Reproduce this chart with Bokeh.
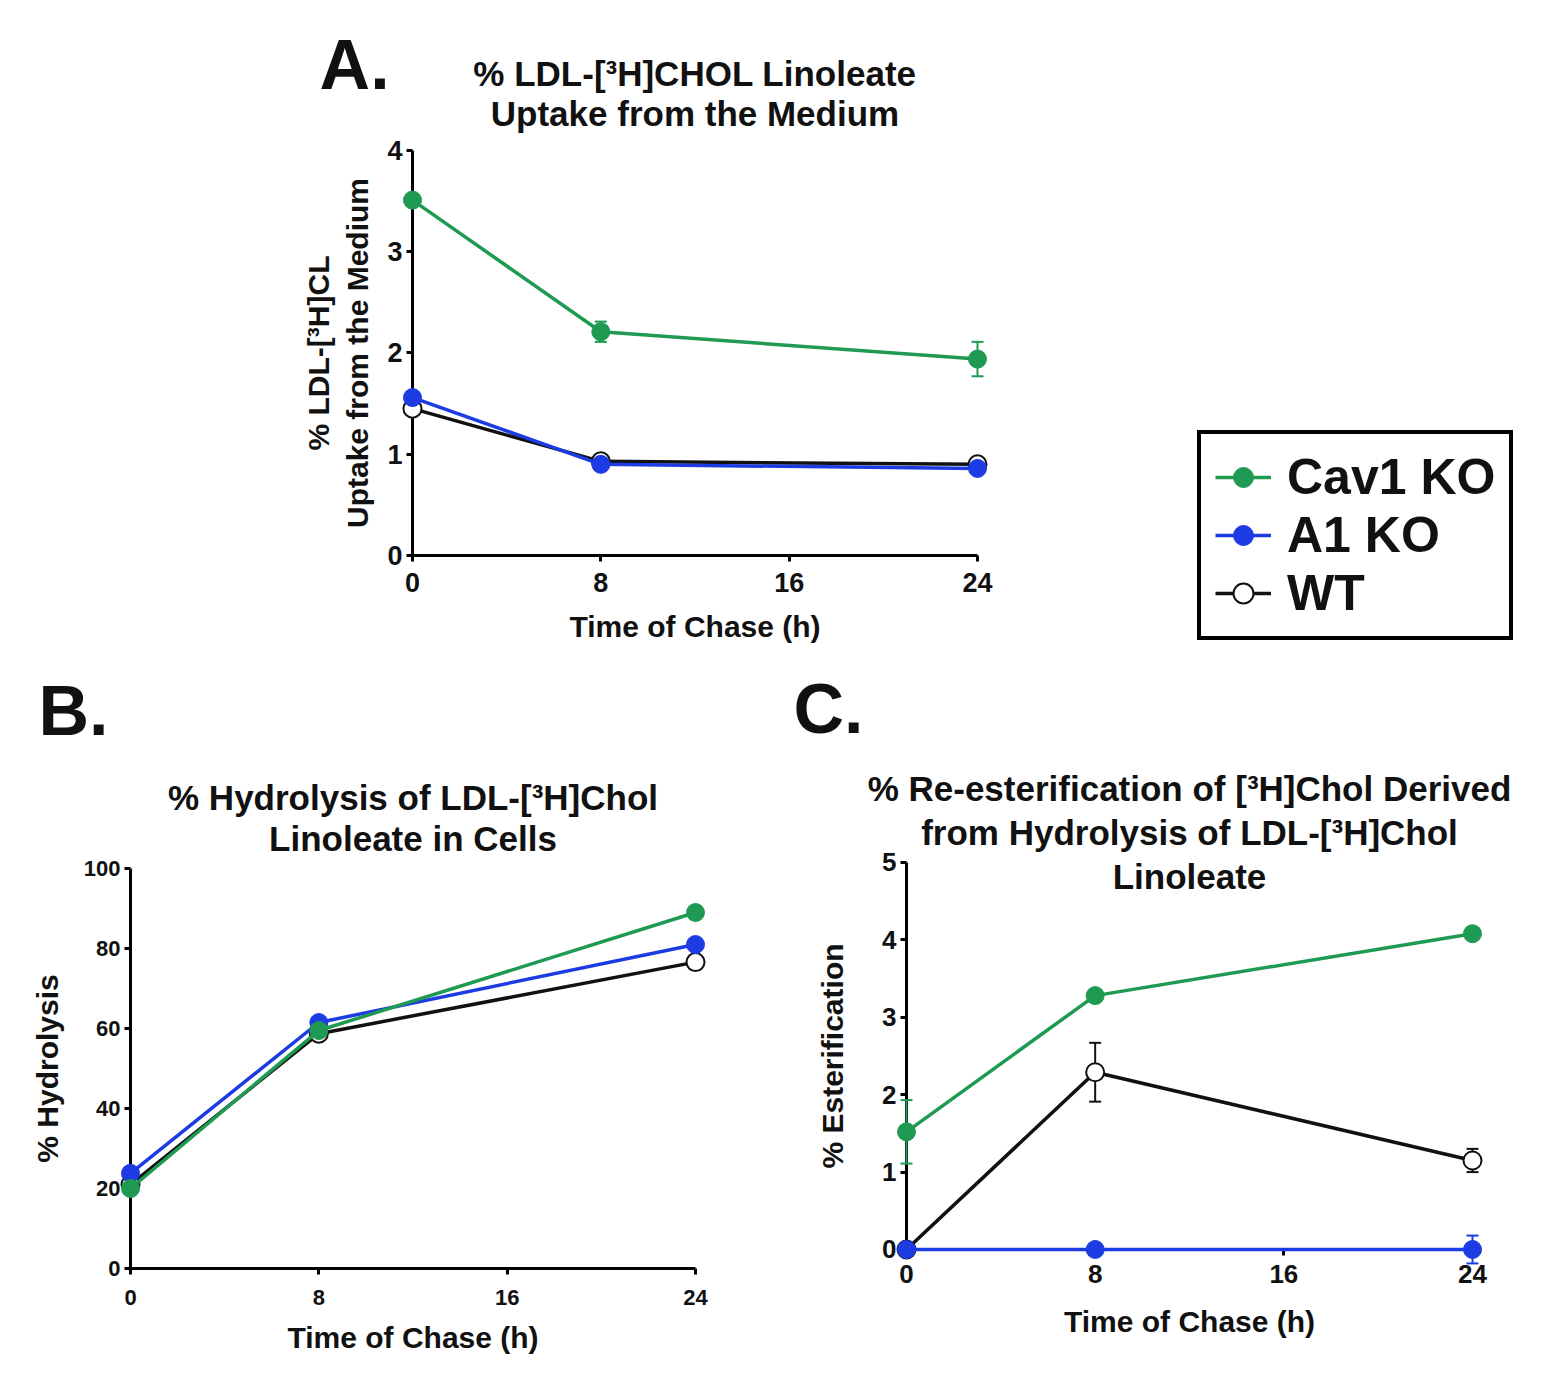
from bokeh.plotting import figure
from bokeh.models import (ColumnDataSource, Whisker, TeeHead, Label, Legend,
                          LegendItem, FixedTicker, Range1d)
from bokeh.layouts import column, row
from bokeh.embed import file_html
from bokeh.resources import INLINE

FONT = "Liberation Sans"
GREEN = "#1f9a52"
BLUE = "#1c3be3"
BLACK = "#111111"

# ---------------- data ----------------
time_h = [0, 8, 24]
x_ticks = [0, 8, 16, 24]

# A. % LDL-[3H]CHOL linoleate uptake from the medium
uptake_cav1 = [3.51, 2.21, 1.94]
uptake_cav1_err = [0.03, 0.10, 0.17]
uptake_a1 = [1.56, 0.90, 0.86]
uptake_a1_err = [0.03, 0.03, 0.03]
uptake_wt = [1.45, 0.93, 0.90]
uptake_wt_err = [0.03, 0.03, 0.04]
uptake_ticks = [0, 1, 2, 3, 4]

# B. % hydrolysis
hydro_cav1 = [20.0, 59.5, 89.0]
hydro_cav1_err = [1.0, 1.5, 1.5]
hydro_a1 = [23.8, 61.5, 81.0]
hydro_a1_err = [1.0, 1.0, 1.0]
hydro_wt = [21.0, 58.7, 76.6]
hydro_wt_err = [1.0, 1.0, 1.5]
hydro_ticks = [0, 20, 40, 60, 80, 100]

# C. % re-esterification
ester_cav1 = [1.52, 3.28, 4.08]
ester_cav1_err = [0.41, 0.07, 0.03]
ester_a1 = [0.0, 0.0, 0.0]
ester_a1_err = [0.0, 0.0, 0.18]
ester_wt = [0.0, 2.29, 1.15]
ester_wt_err = [0.0, 0.38, 0.15]
ester_ticks = [0, 1, 2, 3, 4, 5]


def make_panel(w, h, xr, yr, yticks, tick_size, xlabel, ylabel,
               x_tick_standoff, x_label_standoff, y_label_standoff):
    p = figure(width=w, height=h, min_border=0,
               x_range=Range1d(*xr), y_range=Range1d(*yr),
               output_backend="svg", toolbar_location=None,
               x_axis_label=xlabel, y_axis_label=ylabel)
    p.outline_line_color = None
    p.grid.visible = False
    p.background_fill_color = "white"
    p.border_fill_color = "white"
    for ax in (p.xaxis[0], p.yaxis[0]):
        ax.axis_line_width = 3
        ax.axis_line_color = "black"
        ax.major_tick_line_width = 3
        ax.major_tick_line_color = "black"
        ax.major_tick_out = 6
        ax.major_tick_in = 0
        ax.minor_tick_line_color = None
        ax.major_label_text_font = FONT
        ax.major_label_text_font_style = "bold"
        ax.major_label_text_font_size = tick_size
        ax.major_label_text_color = BLACK
        ax.major_label_standoff = 4
        ax.axis_label_text_font = FONT
        ax.axis_label_text_font_style = "bold"
        ax.axis_label_text_font_size = "30px"
        ax.axis_label_text_color = BLACK
        ax.fixed_location = 0
        ax.level = "underlay"
    p.xaxis[0].major_label_standoff = x_tick_standoff
    p.xaxis[0].axis_label_standoff = x_label_standoff
    p.yaxis[0].axis_label_standoff = y_label_standoff
    p.xaxis[0].bounds = (0, 24)
    p.yaxis[0].bounds = (yticks[0], yticks[-1])
    p.xaxis[0].ticker = FixedTicker(ticks=x_ticks)
    p.yaxis[0].ticker = FixedTicker(ticks=yticks)
    return p


def add_series(p, y, err, color, fill):
    src = ColumnDataSource(dict(x=time_h, y=y,
                                upper=[v + e for v, e in zip(y, err)],
                                lower=[v - e for v, e in zip(y, err)]))
    w = Whisker(source=src, base="x", upper="upper", lower="lower",
                dimension="height", line_color=color, line_width=2,
                upper_head=TeeHead(size=12, line_color=color, line_width=2),
                lower_head=TeeHead(size=12, line_color=color, line_width=2))
    p.add_layout(w)
    r1 = p.line("x", "y", source=src, line_color=color, line_width=3.5)
    r2 = p.scatter("x", "y", source=src, size=18, fill_color=fill,
                   line_color=color, line_width=2 if fill == "white" else 1)
    return [r1, r2]


def add_text(p, x, y, text, size, align="center"):
    p.add_layout(Label(x=x, y=y, text=text, text_font=FONT, text_font_style="bold",
                       text_font_size=size, text_align=align,
                       text_baseline="middle", text_color=BLACK))


# ---------------- panel A (top row, 1549 x 667) ----------------
pA = make_panel(1549, 667, (-17.501, 48.298), (-1.1062, 5.4815),
                uptake_ticks, "27px", "Time of Chase (h)",
                "% LDL-[³H]CL\nUptake from the Medium", 12, 14, 10)
wtA = add_series(pA, uptake_wt, uptake_wt_err, BLACK, "white")
a1A = add_series(pA, uptake_a1, uptake_a1_err, BLUE, BLUE)
cvA = add_series(pA, uptake_cav1, uptake_cav1_err, GREEN, GREEN)
add_text(pA, 12, 4.763, "% LDL-[³H]CHOL Linoleate", "35px")
add_text(pA, 12, 4.368, "Uptake from the Medium", "35px")
add_text(pA, -2.46, 4.84, "A.", "70px")

legend = Legend(items=[LegendItem(label="Cav1 KO", renderers=cvA),
                       LegendItem(label="A1 KO", renderers=a1A),
                       LegendItem(label="WT", renderers=wtA)],
                location=(1197, 27),
                label_text_font=FONT, label_text_font_style="bold",
                label_text_font_size="50px", label_text_color=BLACK,
                border_line_color="black", border_line_width=4,
                border_line_alpha=1.0,
                background_fill_color="white", background_fill_alpha=1,
                padding=14, spacing=0, glyph_width=56, glyph_height=50,
                label_standoff=16, margin=0)
pA.add_layout(legend)

# ---------------- panel B (bottom left, 760 x 720) ----------------
pB = make_panel(760, 720, (-5.522, 26.761), (-29.75, 150.25),
                hydro_ticks, "22px", "Time of Chase (h)", "% Hydrolysis",
                15, 13, 17)
add_series(pB, hydro_wt, hydro_wt_err, BLACK, "white")
add_series(pB, hydro_a1, hydro_a1_err, BLUE, BLUE)
add_series(pB, hydro_cav1, hydro_cav1_err, GREEN, GREEN)
add_text(pB, 12, 117.75, "% Hydrolysis of LDL-[³H]Chol", "35px")
add_text(pB, 12, 107.5, "Linoleate in Cells", "35px")
add_text(pB, -2.42, 139.5, "B.", "70px")

# ---------------- panel C (bottom right, 789 x 720) ----------------
pC = make_panel(789, 720, (-6.191, 27.265), (-1.783, 7.519),
                ester_ticks, "26px", "Time of Chase (h)", "% Esterification",
                10, 18, 30)
add_series(pC, ester_wt, ester_wt_err, BLACK, "white")
add_series(pC, ester_a1, ester_a1_err, BLUE, BLUE)
add_series(pC, ester_cav1, ester_cav1_err, GREEN, GREEN)
add_text(pC, 12, 5.95, "% Re-esterification of [³H]Chol Derived", "35px")
add_text(pC, 12, 5.384, "from Hydrolysis of LDL-[³H]Chol", "35px")
add_text(pC, 12, 4.815, "Linoleate", "35px")
add_text(pC, -3.31, 6.985, "C.", "70px")

layout = column(pA, row(pB, pC, spacing=0), spacing=0)
open("out.html", "w").write(file_html(layout, INLINE))
